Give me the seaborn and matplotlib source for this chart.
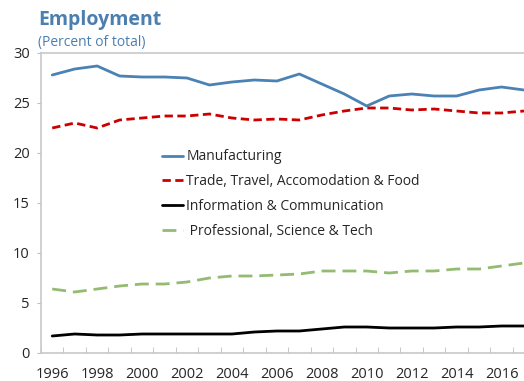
import matplotlib
matplotlib.use('Agg')
import matplotlib.pyplot as plt
import pandas as pd
import seaborn as sns

# data
years = list(range(1996, 2018))
manufacturing = [27.8, 28.4, 28.7, 27.7, 27.6, 27.6, 27.5, 26.8, 27.1, 27.3, 27.2, 27.9,
                 26.9, 25.9, 24.7, 25.7, 25.9, 25.7, 25.7, 26.3, 26.6, 26.3]
trade = [22.5, 23.0, 22.5, 23.3, 23.5, 23.7, 23.7, 23.9, 23.5, 23.3, 23.4, 23.3,
         23.8, 24.2, 24.5, 24.5, 24.3, 24.4, 24.2, 24.0, 24.0, 24.2]
info = [1.7, 1.9, 1.8, 1.8, 1.9, 1.9, 1.9, 1.9, 1.9, 2.1, 2.2, 2.2,
        2.4, 2.6, 2.6, 2.5, 2.5, 2.5, 2.6, 2.6, 2.7, 2.7]
professional = [6.4, 6.1, 6.4, 6.7, 6.9, 6.9, 7.1, 7.5, 7.7, 7.7, 7.8, 7.9,
                8.2, 8.2, 8.2, 8.0, 8.2, 8.2, 8.4, 8.4, 8.7, 9.0]
labels = ['Manufacturing', 'Trade, Travel, Accomodation & Food',
          'Information & Communication', ' Professional, Science & Tech']
year_labels = [str(y) for y in range(1996, 2018, 2)]

df = pd.DataFrame({'year': years * 4,
                   'value': manufacturing + trade + info + professional,
                   'series': sum([[l] * len(years) for l in labels], [])})

sns.set_style('white')
plt.rcParams['font.family'] = ['Open Sans', 'DejaVu Sans']

fig = plt.figure(figsize=(5.24, 3.81), dpi=100)
ax = fig.add_axes([41 / 524, 28 / 381, 1 - 41 / 524, 300 / 381])

palette = {labels[0]: '#4a82b4', labels[1]: '#cc0000',
           labels[2]: '#000000', labels[3]: '#93bb72'}
styles = {labels[0]: '', labels[1]: (3, 1.6), labels[2]: '', labels[3]: (5, 2.5)}
sns.lineplot(data=df, x='year', y='value', hue='series', style='series',
             palette=palette, dashes=styles, linewidth=2, ax=ax)

ax.set_xlim(1995.5, 2017.0)
ax.set_ylim(0, 30)
ax.set_yticks([0, 5, 10, 15, 20, 25, 30])
ax.set_xticks(range(1996, 2018, 2))
ax.set_xticklabels(year_labels)
ax.set_xticks([y + 0.5 for y in range(1995, 2017)], minor=True)
ax.tick_params(axis='x', which='major', length=0, pad=10, labelsize=10.5)
ax.tick_params(axis='x', which='minor', direction='in', length=4, color='#bfbfbf', bottom=True)
ax.tick_params(axis='y', direction='out', length=3, color='#bfbfbf', left=True, labelsize=10.5, pad=5)
ax.set_xlabel('')
ax.set_ylabel('')
for side in ['left', 'bottom', 'top']:
    ax.spines[side].set_color('#c8c8c8')
    ax.spines[side].set_linewidth(1.2)
ax.spines['right'].set_visible(False)

leg = ax.legend(loc='upper left', bbox_to_anchor=(149 / 524, 1 - 137 / 381),
                bbox_transform=fig.transFigure, frameon=False, fontsize=10,
                handlelength=1.55, handletextpad=0.25, labelspacing=0.7)

fig.text(38 / 524, 1 - 25 / 381, 'Employment', fontsize=14, fontweight='bold', color='#4a7fb0')
fig.text(38 / 524, 1 - 46 / 381, '(Percent of total)', fontsize=10, color='#4a7fb0')

fig.savefig('out.png', dpi=100)
